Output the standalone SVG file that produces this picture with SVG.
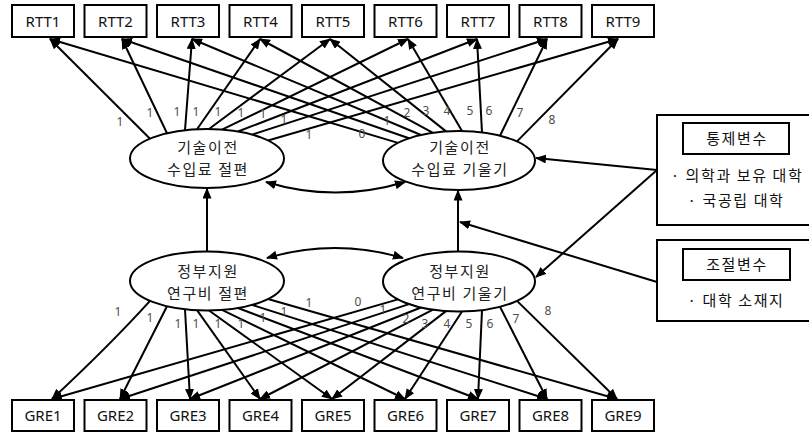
<svg xmlns="http://www.w3.org/2000/svg" width="809" height="432" viewBox="0 0 809 432">
<defs>
<marker id="ah" markerUnits="userSpaceOnUse" markerWidth="11" markerHeight="9" refX="10" refY="4.5" orient="auto-start-reverse" viewBox="0 0 11 9">
<path d="M0,0 L11,4.5 L0,9 z" fill="#000"/>
</marker>
<style>
.box{fill:#fff;stroke:#000;stroke-width:2}
.ell{fill:#fff;stroke:#000;stroke-width:2}
.ln{fill:none;stroke:#000;stroke-width:2;marker-end:url(#ah)}
.dbl{fill:none;stroke:#000;stroke-width:2;marker-start:url(#ah);marker-end:url(#ah)}
.bt{font-family:"Noto Sans","Noto Sans CJK KR",sans-serif;font-size:15px;fill:#111;text-anchor:middle}
.et{font-family:"Noto Sans CJK KR","Noto Sans",sans-serif;font-size:15px;letter-spacing:1.6px;fill:#222;text-anchor:middle}
.kt{font-family:"Noto Sans CJK KR","Noto Sans",sans-serif;font-size:15px;letter-spacing:1.6px;fill:#111;text-anchor:middle}
.nl{font-family:"Noto Sans","Noto Sans CJK KR",sans-serif;font-size:12px;fill:#4d4d4d;text-anchor:middle}
</style>
</defs>
<rect width="809" height="432" fill="#fff"/>

<g id="connectors">
<path class="ln" d="M150,138.7 L50,39"/>
<path class="ln" d="M167,133.3 L122,39"/>
<path class="ln" d="M185,130.2 L192,39"/>
<path class="ln" d="M197,129.3 L260,39"/>
<path class="ln" d="M209,129 L330,39"/>
<path class="ln" d="M222,129.6 L408,39"/>
<path class="ln" d="M238,131.5 L477,39"/>
<path class="ln" d="M252,134.6 L547,39"/>
<path class="ln" d="M268,140.5 L618,39"/>
<path class="ln" d="M398,142.9 L50,39"/>
<path class="ln" d="M409,138.3 L122,39"/>
<path class="ln" d="M421,135 L192,39"/>
<path class="ln" d="M433,132.8 L260,39"/>
<path class="ln" d="M446,131.4 L330,39"/>
<path class="ln" d="M462,131 L408,39"/>
<path class="ln" d="M482,132.4 L477,39"/>
<path class="ln" d="M500,135.7 L547,39"/>
<path class="ln" d="M517,141.4 L618,39"/>
<path class="ln" d="M150,300.8 Q110,345 52,399"/>
<path class="ln" d="M167,306.2 L120,399"/>
<path class="ln" d="M185,309.3 L190,399"/>
<path class="ln" d="M197,310.2 L260,399"/>
<path class="ln" d="M209,310.5 L332,399"/>
<path class="ln" d="M222,309.9 L405,399"/>
<path class="ln" d="M238,308 L478,399"/>
<path class="ln" d="M252,304.9 L547,399"/>
<path class="ln" d="M268,299 L617,399"/>
<path class="ln" d="M398,299.4 L52,399"/>
<path class="ln" d="M409,304.1 L120,399"/>
<path class="ln" d="M421,307.5 L190,399"/>
<path class="ln" d="M433,309.7 L260,399"/>
<path class="ln" d="M446,311.1 L332,399"/>
<path class="ln" d="M462,311.5 L405,399"/>
<path class="ln" d="M482,310.1 L478,399"/>
<path class="ln" d="M500,306.8 L547,399"/>
<path class="ln" d="M517,300.9 L617,399"/>
<path class="ln" d="M207,252 L207,188.5"/>
<path class="ln" d="M458,251.5 L458,190.5"/>
<path class="dbl" d="M266,182 Q335,203 405,182"/>
<path class="dbl" d="M267,258 Q335,238 403,258"/>
<path class="ln" d="M657,170 L536,158"/>
<path class="ln" d="M657,170 L536,277"/>
<path class="ln" d="M657,282 L460,222"/>
<g class="nl">
<text x="120" y="126">1</text>
<text x="150" y="117">1</text>
<text x="177" y="116">1</text>
<text x="196" y="116">1</text>
<text x="218" y="116">1</text>
<text x="241" y="117">1</text>
<text x="263" y="118">1</text>
<text x="284" y="124">1</text>
<text x="309" y="139">1</text>
<text x="362" y="138">0</text>
<text x="387" y="125">1</text>
<text x="407" y="117">2</text>
<text x="426" y="115">3</text>
<text x="447" y="115">4</text>
<text x="470" y="115">5</text>
<text x="489" y="115">6</text>
<text x="520" y="117">7</text>
<text x="552" y="124">8</text>
<text x="118" y="316">1</text>
<text x="150" y="322">1</text>
<text x="178" y="328">1</text>
<text x="196" y="328">1</text>
<text x="218" y="328">1</text>
<text x="241" y="328">1</text>
<text x="263" y="322">1</text>
<text x="284" y="316">1</text>
<text x="309" y="307">1</text>
<text x="358" y="306">0</text>
<text x="383" y="314">1</text>
<text x="406" y="323">2</text>
<text x="425" y="328">3</text>
<text x="447" y="328">4</text>
<text x="469" y="328">5</text>
<text x="490" y="328">6</text>
<text x="516" y="323">7</text>
<text x="548" y="315">8</text>
</g>
</g>

<g id="rtt">
<g id="RTT1"><rect class="box" x="12" y="5" width="62" height="32"/><text class="bt" x="43" y="26.5">RTT1</text></g>
<g id="RTT2"><rect class="box" x="84.5" y="5" width="62" height="32"/><text class="bt" x="115.5" y="26.5">RTT2</text></g>
<g id="RTT3"><rect class="box" x="157" y="5" width="62" height="32"/><text class="bt" x="188" y="26.5">RTT3</text></g>
<g id="RTT4"><rect class="box" x="229.5" y="5" width="62" height="32"/><text class="bt" x="260.5" y="26.5">RTT4</text></g>
<g id="RTT5"><rect class="box" x="302" y="5" width="62" height="32"/><text class="bt" x="333" y="26.5">RTT5</text></g>
<g id="RTT6"><rect class="box" x="374.5" y="5" width="62" height="32"/><text class="bt" x="405.5" y="26.5">RTT6</text></g>
<g id="RTT7"><rect class="box" x="447" y="5" width="62" height="32"/><text class="bt" x="478" y="26.5">RTT7</text></g>
<g id="RTT8"><rect class="box" x="519.5" y="5" width="62" height="32"/><text class="bt" x="550.5" y="26.5">RTT8</text></g>
<g id="RTT9"><rect class="box" x="592" y="5" width="62" height="32"/><text class="bt" x="623" y="26.5">RTT9</text></g>
</g>

<g id="gre">
<g id="GRE1"><rect class="box" x="12" y="400" width="62" height="31"/><text class="bt" x="43" y="421">GRE1</text></g>
<g id="GRE2"><rect class="box" x="84.5" y="400" width="62" height="31"/><text class="bt" x="115.5" y="421">GRE2</text></g>
<g id="GRE3"><rect class="box" x="157" y="400" width="62" height="31"/><text class="bt" x="188" y="421">GRE3</text></g>
<g id="GRE4"><rect class="box" x="229.5" y="400" width="62" height="31"/><text class="bt" x="260.5" y="421">GRE4</text></g>
<g id="GRE5"><rect class="box" x="302" y="400" width="62" height="31"/><text class="bt" x="333" y="421">GRE5</text></g>
<g id="GRE6"><rect class="box" x="374.5" y="400" width="62" height="31"/><text class="bt" x="405.5" y="421">GRE6</text></g>
<g id="GRE7"><rect class="box" x="447" y="400" width="62" height="31"/><text class="bt" x="478" y="421">GRE7</text></g>
<g id="GRE8"><rect class="box" x="519.5" y="400" width="62" height="31"/><text class="bt" x="550.5" y="421">GRE8</text></g>
<g id="GRE9"><rect class="box" x="592" y="400" width="62" height="31"/><text class="bt" x="623" y="421">GRE9</text></g>
</g>

<g id="rtt-intercept">
<ellipse class="ell" cx="207" cy="158.5" rx="77" ry="29.5"/>
<text class="et" x="208" y="152.5">기술이전</text>
<text class="et" x="208" y="174.5">수입료 절편</text>
</g>
<g id="rtt-slope">
<ellipse class="ell" cx="459" cy="160.5" rx="76" ry="29.5"/>
<text class="et" x="460" y="152.5">기술이전</text>
<text class="et" x="460" y="174.5">수입료 기울기</text>
</g>
<g id="gov-intercept">
<ellipse class="ell" cx="207" cy="281" rx="77" ry="29.5"/>
<text class="et" x="208" y="276.5">정부지원</text>
<text class="et" x="208" y="298.5">연구비 절편</text>
</g>
<g id="gov-slope">
<ellipse class="ell" cx="459" cy="281.5" rx="76" ry="30"/>
<text class="et" x="460" y="276.5">정부지원</text>
<text class="et" x="460" y="298.5">연구비 기울기</text>
</g>

<g id="controls">
<rect class="box" x="657" y="115" width="160" height="110"/>
<rect class="box" x="683" y="123" width="106" height="31"/>
<text class="kt" x="737" y="144">통제변수</text>
<text class="kt" x="737" y="180.5">· 의학과 보유 대학</text>
<text class="kt" x="736" y="205.5">· 국공립 대학</text>
</g>
<g id="moderator">
<rect class="box" x="657" y="240" width="160" height="81"/>
<rect class="box" x="683" y="249" width="107" height="31"/>
<text class="kt" x="737" y="270">조절변수</text>
<text class="kt" x="736" y="305.5">· 대학 소재지</text>
</g>
</svg>
